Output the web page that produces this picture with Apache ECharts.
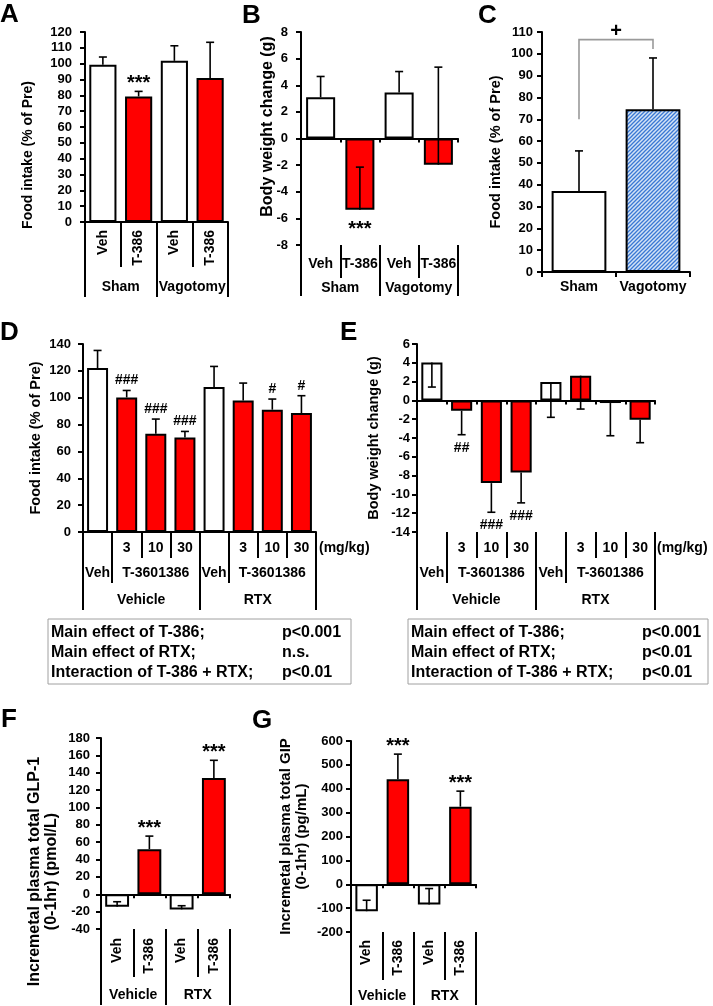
<!DOCTYPE html>
<html lang="en">
<head>
<meta charset="UTF-8">
<title>T-3601386 food intake / body weight / incretin panels</title>
<script src="https://cdn.jsdelivr.net/npm/echarts@6/dist/echarts.min.js"></script>
<style>
  html, body { margin: 0; padding: 0; background: #fff; }
  #charts { width: 713px; height: 1006px; }
</style>
</head>
<body>
<div id="charts"></div>
<script>
// ---- A: food intake, sham vs vagotomy
var catA = ['Veh', 'T-386', 'Veh', 'T-386'];
var groupA = ['Sham', 'Vagotomy'];
var foodA = [99.3, 79.3, 101.8, 91];
var foodAErr = [104.2, 82.5, 111.3, 113.5];
var markA = ['', '***', '', ''];

// ---- B: body weight change, sham vs vagotomy
var catB = ['Veh', 'T-386', 'Veh', 'T-386'];
var groupB = ['Sham', 'Vagotomy'];
var bwB = [3.1, -5.35, 3.45, -1.97];
var bwBErr = [4.66, -2.15, 5.03, 5.36];
var markB = ['', '***', '', ''];

// ---- C: food intake
var catC = ['Sham', 'Vagotomy'];
var foodC = [37.1, 74.6];
var foodCErr = [55.5, 98.1];
var bracketC = [70, 106.5, 102.2]; // left leg from, top, right leg to
var markC = '+';

// ---- D / E: RTX x T-3601386 dose
var treatDE = ['Veh', 'T-386', 'T-386', 'T-386', 'Veh', 'T-386', 'T-386', 'T-386'];
var doseDE = ['', '3', '10', '30', '', '3', '10', '30'];
var drugDE = ['Veh', '', 'T-3601386', '', 'Veh', '', 'T-3601386', ''];
var groupDE = ['Vehicle', 'RTX'];
var foodD = [122.1, 100.2, 73.2, 70.4, 108, 98, 91.1, 88.6];
var foodDErr = [135.2, 105.4, 84.1, 74.9, 123.3, 110.9, 99, 101.5];
var markD = ['', '###', '###', '###', '', '', '#', '#'];
var bwE = [4.04, -1.1, -8.8, -7.66, 1.95, 2.63, -0.28, -2.05];
var bwEErr = [1.42, -3.65, -11.9, -10.9, -1.8, -0.92, -3.76, -4.5];
var markE = ['', '##', '###', '###', '', '', '', ''];
var statsD = [
  ['Main effect of T-386;', 'p<0.001'],
  ['Main effect of RTX;', 'n.s.'],
  ['Interaction of T-386 + RTX;', 'p<0.01']
];
var statsE = [
  ['Main effect of T-386;', 'p<0.001'],
  ['Main effect of RTX;', 'p<0.01'],
  ['Interaction of T-386 + RTX;', 'p<0.01']
];

// ---- F / G: incremental GLP-1 and GIP
var catFG = ['Veh', 'T-386', 'Veh', 'T-386'];
var groupFG = ['Vehicle', 'RTX'];
var glpF = [-14.4, 52, -17.4, 134];
var glpFErr = [-8.6, 67, -13.2, 154.3];
var markF = ['', '***', '', '***'];
var gipG = [-113, 440, -85, 325];
var gipGErr = [-67, 545, -18, 390];
var markG = ['', '***', '', '***'];

var FONT = '"Liberation Sans", Arial, Helvetica, sans-serif';
var BLACK = '#000';
var RED = '#ff0000';
var WHITE = '#ffffff';

function hatch() {
  var c = document.createElement('canvas');
  c.width = 4; c.height = 4;
  var ctx = c.getContext('2d');
  ctx.fillStyle = '#d4e3f6';
  ctx.fillRect(0, 0, 4, 4);
  ctx.strokeStyle = '#3a78d4';
  ctx.lineWidth = 1.3;
  ctx.beginPath();
  ctx.moveTo(0, 4); ctx.lineTo(4, 0);
  ctx.moveTo(-1, 1); ctx.lineTo(1, -1);
  ctx.moveTo(3, 5); ctx.lineTo(5, 3);
  ctx.stroke();
  return c;
}

var grids = [], xAxes = [], yAxes = [], series = [];

function addGrid(l, t, w, h) {
  grids.push({left: l, top: t, width: w, height: h, containLabel: false, outerBoundsMode: 'none'});
  return grids.length - 1;
}

function catAxis(gi, data, o) {
  xAxes.push({
    type: 'category', gridIndex: gi, data: data, position: 'bottom',
    offset: o.offset || 0,
    axisLine: {show: !!o.line, onZero: !!o.line, lineStyle: {color: BLACK, width: 2}},
    axisTick: {show: true, length: o.tick, interval: o.tickInterval != null ? o.tickInterval : 0,
      lineStyle: {color: BLACK, width: 2}},
    axisLabel: {show: o.label !== false, interval: 0, rotate: o.rotate || 0, margin: o.margin || 8,
      fontFamily: FONT, fontWeight: 'bold', fontSize: 14, color: BLACK},
    splitLine: {show: false},
    name: o.name || '', nameLocation: 'end', nameGap: o.nameGap || 3,
    nameTextStyle: {fontFamily: FONT, fontWeight: 'bold', fontSize: 14, color: BLACK,
      verticalAlign: 'top', padding: [o.namePad || 0, 0, 0, 0]}
  });
  return xAxes.length - 1;
}

function valAxis(gi, min, max, step, name, gap, margin, pad, nameSize) {
  yAxes.push({
    type: 'value', gridIndex: gi, min: min, max: max, interval: step,
    axisLine: {show: true, onZero: false, lineStyle: {color: BLACK, width: 2}},
    axisTick: {show: true, length: 5, lineStyle: {color: BLACK, width: 2}},
    axisLabel: {margin: margin, fontFamily: FONT, fontWeight: 'bold', fontSize: 13, color: BLACK},
    splitLine: {show: false},
    name: name, nameLocation: 'middle', nameRotate: 90, nameGap: gap, nameMoveOverlap: false,
    nameTextStyle: {fontFamily: FONT, fontWeight: 'bold', fontSize: nameSize, color: BLACK,
      lineHeight: nameSize + 1, padding: pad || 0}
  });
  return yAxes.length - 1;
}

function addBars(xi, yi, values, fills, gap) {
  series.push({
    type: 'bar', xAxisIndex: xi, yAxisIndex: yi, barCategoryGap: gap, silent: true,
    itemStyle: {borderColor: BLACK, borderWidth: 2},
    data: values.map(function (v, i) { return {value: v, itemStyle: {color: fills[i]}}; })
  });
}

function addErr(xi, yi, values, errs, marks) {
  series.push({
    type: 'custom', xAxisIndex: xi, yAxisIndex: yi, z: 5, clip: false, silent: true,
    data: values.map(function (v, i) { return [i, v, errs[i]]; }),
    renderItem: function (params, api) {
      var i = api.value(0), v = api.value(1), e = api.value(2);
      var p0 = api.coord([i, v]), p1 = api.coord([i, e]);
      var ls = {stroke: BLACK, lineWidth: 1.6};
      var kids = [
        {type: 'line', shape: {x1: p0[0], y1: p0[1], x2: p1[0], y2: p1[1]}, style: ls},
        {type: 'line', shape: {x1: p1[0] - 4, y1: p1[1], x2: p1[0] + 4, y2: p1[1]}, style: ls}
      ];
      var m = marks[params.dataIndex];
      if (m) {
        var up = v >= 0;
        var edge = api.coord([i, up ? Math.max(v, e) : Math.min(v, e)]);
        var star = m.charAt(0) === '*';
        var fs = star ? 20 : 14;
        var gap = star ? (up ? 12 : 15) : (up ? 10 : 13);
        var adj = star ? fs * 0.23 : 0;
        kids.push({type: 'text', style: {text: m, x: edge[0], y: (up ? edge[1] - gap : edge[1] + gap) + adj,
          font: 'bold ' + fs + 'px ' + FONT, fill: BLACK, align: 'center', verticalAlign: 'middle',
          textAlign: 'center', textVerticalAlign: 'middle'}});
      }
      return {type: 'group', children: kids};
    }
  });
}

function vehFill(c) { return c === 'Veh' ? WHITE : RED; }

// A
var gA = addGrid(85, 32, 143, 190);
var xA = catAxis(gA, catA, {line: true, tick: 45, rotate: 90, margin: 8});
catAxis(gA, groupA, {offset: 45, tick: 30, margin: 13});
var yA = valAxis(gA, 0, 120, 10, 'Food intake (% of Pre)', 49, 13, [0, 56, 0, 0], 14);
addBars(xA, yA, foodA, catA.map(vehFill), '24%');
addErr(xA, yA, foodA, foodAErr, markA);

// B
var gB = addGrid(301, 32, 157, 213);
var xB = catAxis(gB, catB, {line: true, tick: 4, label: false});
catAxis(gB, catB, {tick: 33, margin: 12});
catAxis(gB, groupB, {offset: 33, tick: 18, margin: 3});
var yB = valAxis(gB, -8, 8, 2, 'Body weight change (g)', 25, 13, [0, 0, 0, 24], 16);
addBars(xB, yB, bwB, catB.map(vehFill), '26%');
addErr(xB, yB, bwB, bwBErr, markB);

// C
var gC = addGrid(542, 32, 148, 240);
var xC = catAxis(gC, catC, {line: true, tick: 5, margin: 8});
var yC = valAxis(gC, 0, 110, 10, 'Food intake (% of Pre)', 38, 9, 0, 14.5);
var hatchFill = {image: hatch(), repeat: 'repeat'};
addBars(xC, yC, foodC, catC.map(function (c) { return c === 'Sham' ? WHITE : hatchFill; }), '26%');
addErr(xC, yC, foodC, foodCErr, ['', '']);
series.push({
  type: 'custom', xAxisIndex: xC, yAxisIndex: yC, z: 5, clip: false, silent: true,
  data: [[0, bracketC[1]]],
  renderItem: function (params, api) {
    var a = api.coord([0, bracketC[0]]), b = api.coord([0, bracketC[1]]);
    var c = api.coord([1, bracketC[1]]), d = api.coord([1, bracketC[2]]);
    return {type: 'group', children: [
      {type: 'polyline', shape: {points: [a, b, c, d]}, style: {stroke: '#9a9a9a', lineWidth: 1.6, fill: null}},
      {type: 'text', style: {text: markC, x: (b[0] + c[0]) / 2, y: b[1] - 8, font: 'bold 20px ' + FONT,
        fill: BLACK, align: 'center', verticalAlign: 'middle', textAlign: 'center', textVerticalAlign: 'middle'}}
    ]};
  }
});

// D
var fillDE = treatDE.map(vehFill);
var tickSpan = function (i) { return i === 0 || i === 1 || i === 4 || i === 5; };
var gD = addGrid(83, 344, 233, 188);
var xD = catAxis(gD, doseDE, {line: true, tick: 26, margin: 9, name: '(mg/kg)', nameGap: 3, namePad: 9});
catAxis(gD, drugDE, {offset: 26, tick: 25, margin: 8, tickInterval: tickSpan});
catAxis(gD, groupDE, {offset: 51, tick: 27, margin: 10});
var yD = valAxis(gD, 0, 140, 20, 'Food intake (% of Pre)', 39, 12, 0, 14.5);
addBars(xD, yD, foodD, fillDE, '28%');
addErr(xD, yD, foodD, foodDErr, markD);

// E
var gE = addGrid(417, 344, 238, 188);
var xE = catAxis(gE, doseDE, {line: true, tick: 4, label: false});
catAxis(gE, doseDE, {tick: 26, margin: 9, name: '(mg/kg)', nameGap: 2, namePad: 9});
catAxis(gE, drugDE, {offset: 26, tick: 25, margin: 8, tickInterval: tickSpan});
catAxis(gE, groupDE, {offset: 51, tick: 27, margin: 10});
var yE = valAxis(gE, -14, 6, 2, 'Body weight change (g)', 35, 7, 0, 14.5);
addBars(xE, yE, bwE, fillDE, '29%');
addErr(xE, yE, bwE, bwEErr, markE);

// F
var gF = addGrid(101, 738, 129, 191);
var xF = catAxis(gF, catFG, {line: true, tick: 4, label: false});
catAxis(gF, catFG, {tick: 48, rotate: 90, margin: 9});
catAxis(gF, groupFG, {offset: 48, tick: 28, margin: 11});
var yF = valAxis(gF, -40, 180, 20, 'Incremetal plasma total GLP-1\n(0-1hr) (pmol/L)', 41, 11, [0, 76, 0, 0], 16);
addBars(xF, yF, glpF, catFG.map(vehFill), '26%');
addErr(xF, yF, glpF, glpFErr, markF);

// G
var gG = addGrid(351, 741, 125, 191);
var xG = catAxis(gG, catFG, {line: true, tick: 4, label: false});
catAxis(gG, catFG, {tick: 48, rotate: 90, margin: 8});
catAxis(gG, groupFG, {offset: 48, tick: 25, margin: 9});
var yG = valAxis(gG, -200, 600, 100, 'Incremetal plasma total GIP\n(0-1hr) (pg/mL)', 41, 8, 0, 15);
addBars(xG, yG, gipG, catFG.map(vehFill), '28%');
addErr(xG, yG, gipG, gipGErr, markG);

// panel letters and ANOVA boxes
function letter(t, x, y) {
  return {type: 'text', x: x, y: y, silent: true,
    style: {text: t, font: 'bold 26px ' + FONT, fill: BLACK, verticalAlign: 'top', textVerticalAlign: 'top'}};
}
function statBox(x, y, w, rows, valX) {
  var kids = [{type: 'rect', shape: {x: 0, y: 0, width: w, height: 65},
    style: {fill: '#fff', stroke: '#a0a0a0', lineWidth: 1}}];
  rows.forEach(function (r, k) {
    var st = {font: 'bold 16px ' + FONT, fill: BLACK, verticalAlign: 'middle', textVerticalAlign: 'middle'};
    kids.push({type: 'text', x: 3, y: 14 + k * 20, style: Object.assign({text: r[0]}, st)});
    kids.push({type: 'text', x: valX, y: 14 + k * 20, style: Object.assign({text: r[1]}, st)});
  });
  return {type: 'group', x: x, y: y, silent: true, children: kids};
}

var myChart = echarts.init(document.getElementById('charts'));
myChart.setOption({
  animation: false,
  backgroundColor: '#fff',
  textStyle: {fontFamily: FONT, fontWeight: 'bold', color: BLACK},
  grid: grids,
  xAxis: xAxes,
  yAxis: yAxes,
  series: series,
  graphic: [
    letter('A', 0, 2), letter('B', 242, 3), letter('C', 478, 3),
    letter('D', 0, 320), letter('E', 340, 320),
    letter('F', 1, 707), letter('G', 252, 708),
    statBox(48, 619, 303, statsD, 234),
    statBox(408, 619, 300, statsE, 234)
  ]
});
</script>
</body>
</html>
